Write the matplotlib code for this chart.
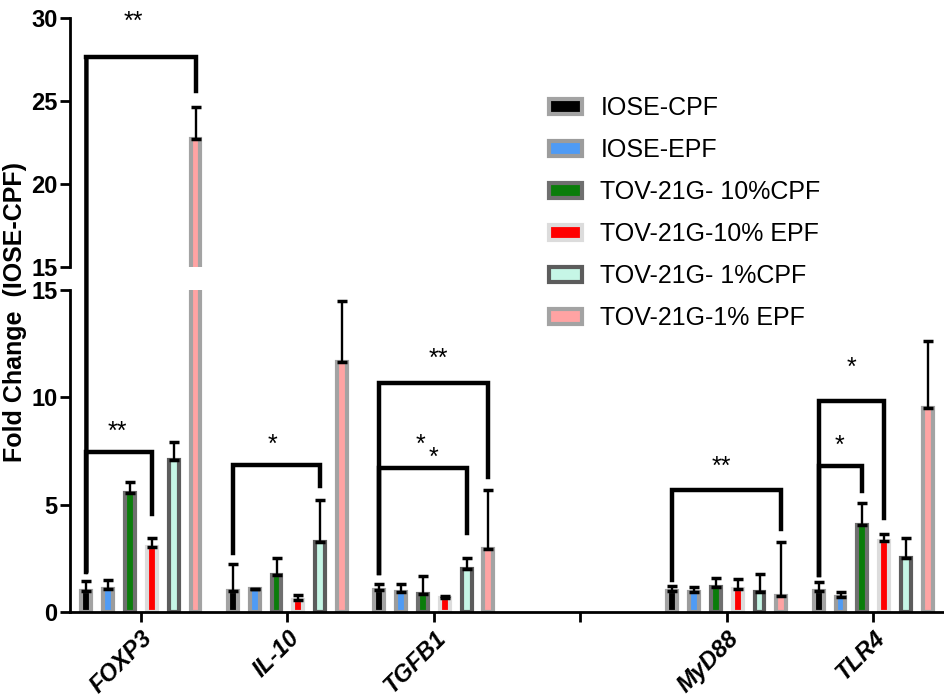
import numpy as np
import matplotlib
matplotlib.use("Agg")
from matplotlib import pyplot as plt
from matplotlib.patches import Patch, ConnectionPatch

plt.rcParams['font.family'] = ['Liberation Sans', 'DejaVu Sans']

genes = ['FOXP3', 'IL-10', 'TGFB1', '', 'MyD88', 'TLR4']
series = ['IOSE-CPF', 'IOSE-EPF', 'TOV-21G- 10%CPF', 'TOV-21G-10% EPF',
          'TOV-21G- 1%CPF', 'TOV-21G-1% EPF']

# mean fold change per series (index 3 is the empty slot)
means = [
    [0.99, 0.99, 1.02, np.nan, 0.98, 0.98],
    [1.06, 1.06, 0.95, np.nan, 0.93, 0.71],
    [5.56, 1.72, 0.84, np.nan, 1.16, 4.05],
    [3.04, 0.56, 0.67, np.nan, 1.06, 3.32],
    [7.08, 3.25, 1.99, np.nan, 0.93, 2.53],
    [22.7, 11.64, 2.92, np.nan, 0.76, 9.52],
]
errs = [
    [0.45, 1.24, 0.28, np.nan, 0.25, 0.40],
    [0.41, 0.00, 0.34, np.nan, 0.25, 0.24],
    [0.49, 0.81, 0.85, np.nan, 0.41, 1.01],
    [0.39, 0.23, 0.09, np.nan, 0.46, 0.31],
    [0.82, 1.97, 0.51, np.nan, 0.84, 0.90],
    [1.94, 2.86, 2.78, np.nan, 2.50, 3.10],
]

fills = ['#000000', '#4f9bf5', '#0a7d0a', '#ff0000', '#c6f6e6', '#ffa3a3']
edges = ['#a3a3a3', '#9c9c9c', '#6f6f6f', '#dcdcdc', '#5c5c5c', '#a3a3a3']

# brackets: group, left bar, right bar, height, left leg end, right leg end
brackets = [
    (0, 0, 3, 7.47, 1.86, 4.56),
    (1, 0, 4, 6.85, 2.73, 5.87),
    (2, 0, 5, 10.68, 1.82, 6.30),
    (2, 0, 4, 6.70, 1.82, 3.70),
    (4, 0, 5, 5.68, 1.49, 3.87),
    (5, 0, 3, 9.83, 1.72, 4.38),
    (5, 0, 2, 6.80, 1.72, 5.65),
]
# star labels: x, y, text
stars = [
    (-0.16, 8.4, '**'),
    (0.90, 7.8, '*'),
    (2.03, 11.8, '**'),
    (1.91, 7.8, '*'),
    (2.00, 7.2, '*'),
    (3.96, 6.75, '**'),
    (4.85, 11.36, '*'),
    (4.77, 7.73, '*'),
]

step = 0.149
width = 0.068
x = np.arange(len(genes))


def bar_x(g, i):
    return g + (i - 2.5) * step


def draw_bars(ax):
    for i in range(len(series)):
        xs = x + (i - 2.5) * step
        m = np.array(means[i])
        e = np.array(errs[i])
        ax.bar(xs, m, width, color=fills[i], edgecolor=edges[i], linewidth=3, zorder=2)
        ax.errorbar(xs, m, yerr=[np.zeros_like(e), e], fmt='none', ecolor='black',
                    elinewidth=1.7, capsize=3.5, capthick=2.5, zorder=3)


fig = plt.figure(figsize=(9.45, 6.99), dpi=100)
ax_top = fig.add_axes([0.074, 0.618, 0.926, 0.356])
ax_bot = fig.add_axes([0.074, 0.1245, 0.926, 0.4605])

for ax in (ax_top, ax_bot):
    draw_bars(ax)
    ax.set_xlim(-0.485, 5.49)
    ax.spines['top'].set_visible(False)
    ax.spines['right'].set_visible(False)
    ax.spines['left'].set_linewidth(2)
    ax.tick_params(axis='y', width=2, length=7, labelsize=17, pad=2)

ax_top.set_ylim(15, 30)
ax_top.set_yticks([15, 20, 25, 30])
ax_top.spines['bottom'].set_visible(False)
ax_top.set_xticks([])

ax_bot.set_ylim(0, 15)
ax_bot.set_yticks([0, 5, 10, 15])
ax_bot.spines['bottom'].set_linewidth(2)
ax_bot.set_xticks(x)
ax_bot.set_xticklabels(genes, rotation=45, ha='right', rotation_mode='anchor',
                       fontsize=17, fontweight='bold', fontstyle='italic')
ax_bot.tick_params(axis='x', width=2, length=7)

for ax in (ax_top, ax_bot):
    for lab in ax.get_yticklabels():
        lab.set_fontweight('bold')

# significance brackets
lw_b = 3.2
for g, a, b, h, la, lb in brackets:
    xa, xb = bar_x(g, a), bar_x(g, b)
    ax_bot.plot([xa, xa, xb, xb], [la, h, h, lb], color='black', lw=lw_b,
                solid_joinstyle='miter', zorder=4)

# tall FOXP3 bracket across the break
xa, xb = bar_x(0, 0), bar_x(0, 5)
ax_top.plot([xa, xb, xb], [27.65, 27.65, 25.6], color='black', lw=lw_b,
            solid_joinstyle='miter', zorder=4, clip_on=False)
leg = ConnectionPatch(xyA=(xa, 27.65), coordsA=ax_top.transData,
                      xyB=(xa, 1.86), coordsB=ax_bot.transData,
                      color='black', lw=lw_b)
fig.add_artist(leg)

for sx, sy, t in stars:
    ax_bot.text(sx, sy, t, ha='center', va='center', fontsize=18, zorder=5)
ax_top.text(-0.055, 29.8, '**', ha='center', va='center', fontsize=18, clip_on=False)

handles = [Patch(facecolor=fills[i], edgecolor=edges[i], linewidth=3) for i in range(len(series))]
fig.legend(handles, series, loc='upper left', bbox_to_anchor=(0.581, 0.862),
           frameon=False, fontsize=18, borderpad=0, borderaxespad=0,
           handlelength=1.3, handleheight=0.5, handletextpad=0.75, labelspacing=0.72)

fig.text(0.016, 0.553, 'Fold Change  (IOSE-CPF)', rotation=90, ha='center', va='center',
         fontsize=18, fontweight='bold')

fig.savefig('out.png', dpi=100)
